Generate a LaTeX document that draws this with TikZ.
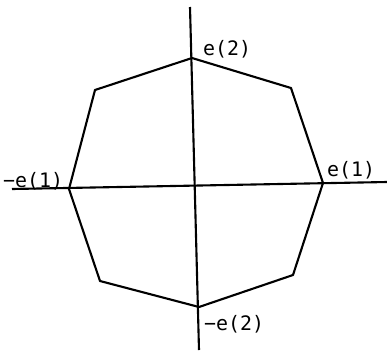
\documentclass[tikz,border=0pt]{standalone}
\usepackage{fontspec}
\setmonofont{DejaVu Sans Mono}
\usetikzlibrary{calc}

\begin{document}
\begin{tikzpicture}[x=0.03cm, y=-0.03cm, line width=1.8pt,
    lbl/.style={font=\ttfamily\fontsize{17}{17}\selectfont, inner sep=0pt, anchor=base west}]
            \useasboundingbox (0,0) rectangle (387,350);

            \coordinate (Xl) at (12,189);
            \coordinate (Xr) at (387,182);
            \coordinate (Yt) at (190,7);
            \coordinate (Yb) at (199,350);

            \draw (Xl) -- (Xr);
            \draw (Yt) -- (Yb);

            \coordinate (E1) at (323,183);
            \coordinate (P1) at (291,88);
            \coordinate (E2) at (192,58);
            \coordinate (P2) at (95,90);
            \coordinate (F1) at (69,189);
            \coordinate (P3) at (100,281);
            \coordinate (F2) at (199,307);
            \coordinate (P4) at (293,275);

            \draw[line join=round] (E1) -- (P1) -- (E2) -- (P2) -- (F1) -- (P3) -- (F2) -- (P4) -- cycle;

            \node[lbl] (L1) at (326,176) {e(1)};
            \node[lbl] (L2) at (202,55) {e(2)};
            \node[lbl] (L3) at (2,187) {−e(1)};
            \node[lbl] (L4) at (203,330) {−e(2)};
        \end{tikzpicture}
\end{document}
